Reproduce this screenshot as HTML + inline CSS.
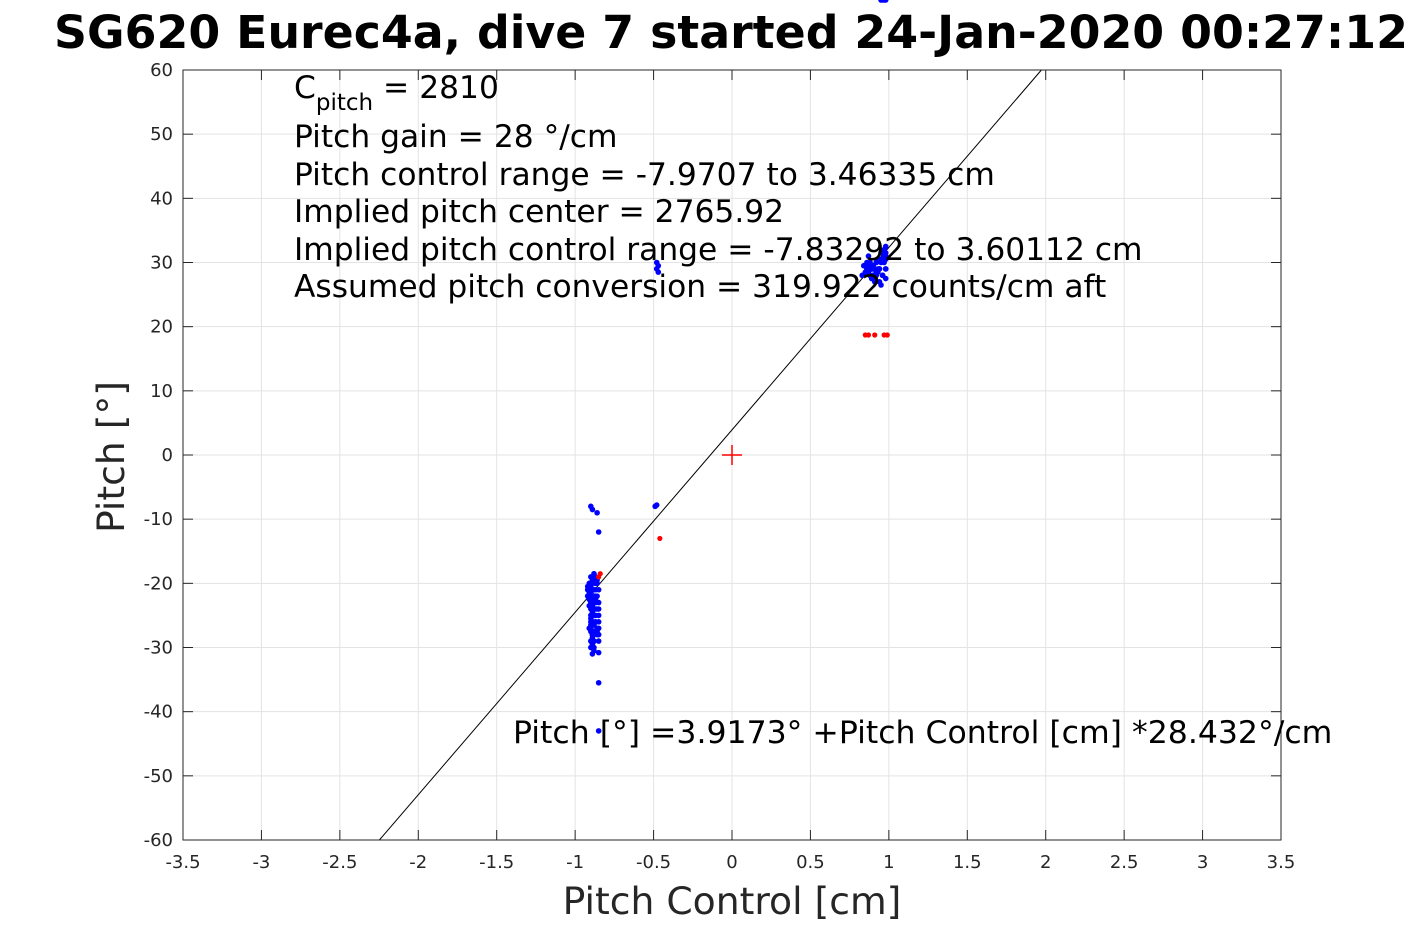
<!DOCTYPE html>
<html><head><meta charset="utf-8"><style>
body{margin:0;background:#fff;}
svg text{font-family:"DejaVu Sans","Liberation Sans",sans-serif;}
</style></head><body>
<svg id="chart" width="1417" height="945" xmlns="http://www.w3.org/2000/svg">
<rect width="1417" height="945" fill="#fff"/>
<text x="731" y="48" font-size="45.8" font-weight="bold" text-anchor="middle">SG620 Eurec4a, dive 7 started 24-Jan-2020 00:27:12</text>
<g id="grid"></g>
<g id="marks"></g>
<rect x="183" y="70" width="1098" height="770" fill="none" stroke="#262626" stroke-width="1"/>
<g id="ticks"></g>
<text x="732" y="914" font-size="37.7" text-anchor="middle" fill="#262626">Pitch Control [cm]</text>
<text transform="translate(124,457) rotate(-90)" font-size="37.7" text-anchor="middle" fill="#262626">Pitch [°]</text>
<g font-size="31.3">
<text x="294" y="98">C<tspan font-size="23" dy="12">pitch</tspan><tspan dy="-12"> = 2810</tspan></text>
<text x="294" y="147">Pitch gain = 28 °/cm</text>
<text x="294" y="185">Pitch control range = -7.9707 to 3.46335 cm</text>
<text x="294" y="222">Implied pitch center = 2765.92</text>
<text x="294" y="260">Implied pitch control range = -7.83292 to 3.60112 cm</text>
<text x="294" y="297">Assumed pitch conversion = 319.922 counts/cm aft</text>
<text x="513" y="743" font-size="31.5">Pitch [°] =3.9173° +Pitch Control [cm] *28.432°/cm</text>
</g>
</svg>
<script>
const xTicks=[-3.5,-3,-2.5,-2,-1.5,-1,-0.5,0,0.5,1,1.5,2,2.5,3,3.5];
const yTicks=[-60,-50,-40,-30,-20,-10,0,10,20,30,40,50,60];
const fitIntercept=3.9173;
const fitSlope=28.432;
const blueX=[-0.92,-0.91,-0.90,-0.89,-0.88,-0.87,-0.91,-0.90,-0.89,-0.88,-0.87,-0.86,-0.90,-0.89,-0.88,-0.87,-0.86,-0.85,-0.90,-0.89,-0.88,-0.87,-0.85,-0.90,-0.89,-0.88,-0.85,-0.90,-0.88,-0.86,-0.85,-0.89,-0.88,-0.85,-0.90,-0.87,-0.85,-0.85,-0.85,-0.85,
-0.92,-0.91,-0.90,-0.89,-0.88,-0.87,-0.86,-0.92,-0.91,-0.90,-0.89,-0.88,-0.87,-0.91,-0.90,-0.89,-0.88,-0.87,-0.86,-0.90,-0.89,-0.88,-0.87,-0.91,-0.90,-0.89,-0.88,-0.87,-0.90,-0.89,-0.88,-0.86,-0.85,-0.89,-0.88,-0.86,-0.85,-0.89,-0.88,-0.85,-0.90,-0.89,-0.86,
-0.49,-0.48,-0.47,-0.48,-0.47,-0.48,
0.83,0.85,0.86,0.87,0.88,0.89,0.90,0.91,0.92,0.86,0.88,0.90,0.92,0.94,0.95,0.96,0.97,0.97,0.97,0.98,0.98,0.98,0.98,0.98,0.93,0.95,0.89,
0.84,0.85,0.86,0.87,0.88,0.89,0.90,0.91,0.92,0.93,0.94,0.95,0.96,0.87,0.88,0.89,0.90,0.91,0.92,0.93,0.94,0.95,0.96,0.97,0.98,0.98,0.97,0.96,0.95,0.98];
const blueY=[-21,-20,-19,-19.5,-18.5,-20,-22,-23,-21,-22,-21,-20,-25,-24,-23,-24,-22,-23,-27,-26,-25,-26,-25,-29,-28,-29,-27,-30,-30,-28,-29,-31,-28,-24,-26,-22,-21,-30.8,-35.5,-43,
-20.5,-21.5,-20.5,-20,-19.5,-19,-19.5,-22,-22.5,-21.5,-22.5,-21,-22.5,-23.5,-24,-23.5,-22.5,-23,-24,-25.5,-26,-26.5,-25,-27,-27.5,-28.5,-27.5,-26,-26.5,-29.5,-30.5,-27,-28,-28,-29,-27.5,-26,-24.5,-22,
-12,-8,-8.5,-9,-8,-7.8,
28.5,29,29.5,30,28,29.5,30,31,29,27.5,28,27,28.5,29,28,29,30,27,26.5,28,30,31,32,27.5,30.5,31,29,
29,28.5,30,29,29.5,28.5,29,28.5,30,29,29.5,29,28,30.5,29,30.5,28,29.5,28,29,28,27.5,30,29,29,31.5,31.5,30.5,31.5,32.5];
const redX=[0.85,0.87,0.91,0.97,0.99,-0.85,-0.84,-0.46];
const redY=[18.7,18.7,18.7,18.7,18.7,-19,-18.5,-13];
const ns="http://www.w3.org/2000/svg";
const X0=183,X1=1281,Y0=840,Y1=70;
function sx(v){return X0+(v+3.5)/7*(X1-X0);}
function sy(v){return Y0-(v+60)/120*(Y0-Y1);}
function mk(tag,attrs,parent){const e=document.createElementNS(ns,tag);for(const k in attrs)e.setAttribute(k,attrs[k]);parent.appendChild(e);return e;}
const grid=document.getElementById('grid'),ticks=document.getElementById('ticks'),marks=document.getElementById('marks');
xTicks.forEach(t=>{
 const l=mk('line',{x1:sx(t),x2:sx(t),y1:Y1,y2:Y0,stroke:'#e3e3e3','stroke-width':1},grid);
 
 
 mk('line',{x1:sx(t),x2:sx(t),y1:Y0,y2:Y0-10,stroke:'#262626'},ticks);
 mk('line',{x1:sx(t),x2:sx(t),y1:Y1,y2:Y1+10,stroke:'#262626'},ticks);
 const tx=mk('text',{x:sx(t),y:868,'font-size':18,'text-anchor':'middle',fill:'#262626'},ticks);
 tx.textContent=String(t);
 
 
});
yTicks.forEach(t=>{
 const l=mk('line',{x1:X0,x2:X1,y1:sy(t),y2:sy(t),stroke:'#e3e3e3','stroke-width':1},grid);
 
 
 mk('line',{x1:X0,x2:X0+10,y1:sy(t),y2:sy(t),stroke:'#262626'},ticks);
 mk('line',{x1:X1,x2:X1-10,y1:sy(t),y2:sy(t),stroke:'#262626'},ticks);
 const tx=mk('text',{x:173,y:sy(t)+6,'font-size':18,'text-anchor':'end',fill:'#262626'},ticks);
 tx.textContent=String(t);
 
 
});
const xa=(-60-fitIntercept)/fitSlope, xb=(60-fitIntercept)/fitSlope;
const fl=mk('line',{x1:sx(xa),y1:sy(-60),x2:sx(xb),y2:sy(60),stroke:'#000','stroke-width':1},marks);


blueX.forEach((v,i)=>{
 const c=mk('circle',{cx:sx(v),cy:sy(blueY[i]),r:2.8,fill:'#0000ff'},marks);
 
 
});
redX.forEach((v,i)=>{
 const c=mk('circle',{cx:sx(v),cy:sy(redY[i]),r:2.6,fill:'#ff0000'},marks);
 
 
});
const cx=sx(0),cy=sy(0);
const cross=mk('path',{d:`M${cx-10},${cy}H${cx+10}M${cx},${cy-10}V${cy+10}`,stroke:'#ff0000','stroke-width':1.5},marks);


</script>
</body></html>
